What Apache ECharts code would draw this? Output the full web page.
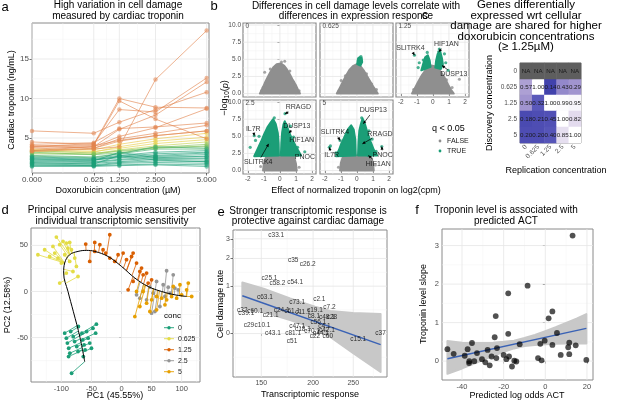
<!DOCTYPE html>
<html>
<head>
<meta charset="utf-8">
<script src="https://cdn.jsdelivr.net/npm/echarts@6/dist/echarts.min.js"></script>
<style>
html, body { margin: 0; padding: 0; background: #fff; }
#main { width: 617px; height: 406px; }
</style>
</head>
<body>
<div id="main"></div>
<script>
// ---- panel a : troponin per individual ----
var concLabels = ['0.000', '0.625', '1.250', '2.500', '5.000'];
var concValues = [0, 0.625, 1.25, 2.5, 5];
var troponinLevels = [
	[3.3, 3.6, 3.9, 12.4, 18.6],
	[4.5, 4.2, 10.0, 8.9, 8.8],
	[4.0, 4.1, 9.7, 7.4, 4.9],
	[3.9, 4.3, 8.6, 8.3, 12.6],
	[5.9, 5.6, 7.0, 8.6, 10.8],
	[3.6, 3.9, 6.1, 7.9, 12.1],
	[4.2, 4.4, 6.2, 6.4, 6.9],
	[3.4, 3.9, 5.2, 6.3, 8.7],
	[4.0, 3.7, 4.9, 5.6, 6.6],
	[3.8, 4.0, 4.7, 5.3, 5.9],
	[3.4, 3.7, 4.6, 5.3, 5.9],
	[3.6, 3.5, 4.2, 4.9, 5.6],
	[3.3, 3.2, 3.9, 4.6, 5.1],
	[3.5, 3.3, 3.7, 4.3, 4.8],
	[3.1, 3.0, 3.5, 4.0, 4.5],
	[3.0, 2.9, 3.4, 3.8, 4.2],
	[3.4, 3.1, 3.3, 3.7, 4.0],
	[3.2, 2.9, 3.1, 3.8, 3.9],
	[2.8, 2.6, 3.0, 3.6, 3.6],
	[2.7, 2.5, 3.0, 3.9, 3.7],
	[2.6, 2.4, 2.8, 3.2, 3.4],
	[2.5, 2.3, 2.6, 2.8, 3.1],
	[2.4, 2.2, 2.7, 3.0, 3.2],
	[2.3, 2.2, 2.5, 2.7, 2.9],
	[2.2, 2.1, 3.2, 2.5, 2.7],
	[2.1, 2.0, 2.3, 2.6, 2.6],
	[2.0, 1.9, 2.2, 2.4, 2.4],
	[1.9, 1.7, 2.8, 2.2, 2.0],
	[1.8, 1.8, 2.0, 2.3, 2.2],
	[1.7, 1.6, 1.9, 2.1, 2.0],
	[1.6, 1.5, 1.8, 1.9, 1.8],
	[1.5, 1.5, 1.6, 1.7, 1.6],
	[1.4, 1.4, 1.5, 1.6, 1.4]
];

// ---- panel b : volcano facets ----
var facetNames = ['0', '0.625', '1.25', '2.5', '5'];
var volcanoGray = [
	[[-1.25, 0], [-1.1, 0.7], [-0.95, 1.5], [-0.78, 2.3], [-0.6, 3.1], [-0.42, 3.8], [-0.2, 4.3], [0.05, 4.4], [0.25, 4.1], [0.42, 3.6], [0.6, 2.9], [0.78, 2.1], [0.98, 1.3], [1.12, 0.6], [1.25, 0]],
	[[-1.25, 0], [-1.05, 0.9], [-0.88, 1.7], [-0.68, 2.6], [-0.48, 3.4], [-0.25, 4.0], [0.0, 4.3], [0.22, 4.0], [0.42, 3.4], [0.62, 2.6], [0.85, 1.7], [1.05, 0.9], [1.3, 0]],
	[[-1.3, 0], [-1.1, 0.9], [-0.9, 1.8], [-0.68, 2.7], [-0.5, 3.3], [-0.3, 3.8], [-0.1, 4.1], [0.1, 4.0], [0.32, 3.7], [0.55, 3.0], [0.76, 2.2], [0.95, 1.3], [1.12, 0.6], [1.3, 0]],
	[[-1.05, 0], [-1.0, 1.0], [-0.85, 2.1], [-0.4, 2.3], [0, 2.2], [0.4, 2.3], [0.85, 2.2], [1.0, 1.0], [1.05, 0]],
	[[-1.05, 0], [-1.0, 1.1], [-0.85, 2.2], [-0.4, 2.3], [0, 2.2], [0.4, 2.3], [0.85, 2.2], [1.0, 1.1], [1.05, 0]]
];
var volcanoGreen = [
	[],
	[[[0.02, 4.3], [0.05, 4.9], [0.15, 5.3], [0.3, 5.2], [0.33, 4.6], [0.22, 4.1]]],
	[[[-0.72, 3.4], [-0.6, 4.4], [-0.48, 5.3], [-0.32, 5.6], [-0.2, 4.8], [-0.15, 3.9]],
	 [[0.15, 3.8], [0.2, 4.8], [0.3, 5.8], [0.45, 6.2], [0.56, 5.2], [0.62, 4.3], [0.5, 3.6]]],
	[[[-1.6, 2.1], [-1.38, 3.2], [-1.18, 4.2], [-0.98, 5.3], [-0.78, 6.3], [-0.58, 7.0], [-0.42, 7.5], [-0.26, 6.8], [-0.13, 5.5], [-0.08, 4.0], [-0.06, 2.2]],
	 [[0.06, 2.2], [0.09, 4.0], [0.14, 5.6], [0.22, 6.7], [0.3, 7.2], [0.42, 6.6], [0.56, 5.7], [0.76, 4.6], [0.98, 3.6], [1.22, 2.6], [1.32, 2.2]]],
	[[[-1.3, 2.1], [-1.12, 3.0], [-0.96, 4.0], [-0.76, 5.0], [-0.56, 6.0], [-0.36, 6.6], [-0.2, 6.0], [-0.1, 4.5], [-0.07, 2.2]],
	 [[0.07, 2.2], [0.1, 4.2], [0.15, 5.8], [0.25, 6.8], [0.35, 7.6], [0.5, 6.8], [0.66, 5.5], [0.86, 4.2], [1.06, 3.0], [1.26, 2.2]]]
];
var volcanoGrayDots = [
	[[-1.05, 0.9], [-0.95, 3.1], [0.3, 4.7], [0.85, 1.7], [0.95, 1.1], [-1.15, 0.4], [0.62, 3.3], [-0.6, 3.6], [0.1, 4.6], [1.2, 0.4]],
	[[-0.98, 1.9], [-0.88, 1.4], [-1.12, 0.4], [0.92, 1.4], [1.22, 0.6], [-0.72, 2.6], [0.6, 2.9]],
	[[1.65, 2.1], [1.2, 0.9], [-1.2, 0.6], [0.85, 2.0]],
	[[1.2, 0.5], [-1.2, 0.6]],
	[[1.15, 0.8], [-1.15, 0.5]]
];
var volcanoGreenDots = [
	[],
	[[0.25, 5.4], [0.1, 5.1]],
	[[-1.15, 5.6], [-0.85, 4.5], [-0.92, 3.8], [0.72, 5.8], [0.8, 4.5], [0.4, 6.5], [-0.35, 6.0], [0.95, 3.4], [0.36, 6.1], [0.57, 4.1], [-0.6, 4.9]],
	[[-1.6, 5.1], [-1.85, 3.4], [-1.52, 4.4], [0.32, 8.3], [0.55, 5.5], [0.32, 4.15], [1.55, 2.75], [1.1, 3.4], [0.85, 4.9], [-1.3, 5.0], [-0.7, 3.9], [0.65, 6.5], [-0.35, 7.7]],
	[[0.4, 6.83], [0.34, 3.9], [1.55, 3.5], [0.71, 2.2], [-1.05, 4.4], [-1.72, 3.4], [-1.65, 3.6], [-1.3, 2.6], [1.2, 2.8], [0.95, 4.6], [0.75, 5.8], [0.3, 7.7]]
];
// facet, gene, point x, point y, label x, label y
var geneLabels = [
	[2, 'SLITRK4', -1.15, 5.6, -1.4, 6.6],
	[2, 'HIF1AN', 0.36, 6.1, 0.84, 7.2],
	[2, 'DUSP13', 0.57, 4.1, 1.3, 2.8],
	[3, 'RRAGD', 0.32, 8.3, 1.15, 9.2],
	[3, 'IL7R', -1.6, 5.1, -1.66, 6.0],
	[3, 'DUSP13', 0.55, 5.5, 1.05, 6.5],
	[3, 'HIF1AN', 0.32, 4.15, 1.36, 4.5],
	[3, 'PNOC', 1.55, 2.75, 1.56, 1.96],
	[3, 'SLITRK4', -0.7, 3.9, -1.35, 1.23],
	[4, 'DUSP13', 0.4, 6.83, 1.02, 8.77],
	[4, 'RRAGD', 0.34, 3.9, 1.44, 5.37],
	[4, 'PNOC', 1.55, 3.5, 1.61, 2.3],
	[4, 'HIF1AN', 0.71, 2.2, 1.33, 1.0],
	[4, 'SLITRK4', -1.05, 4.4, -1.37, 5.6],
	[4, 'IL7R', -1.72, 3.4, -1.57, 2.2]
];

// ---- panel c : shared genes ----
var heatCols = ['0', '0.625', '1.25', '2.5', '5'];
var heatRows = ['0', '0.625', '1.25', '2.5', '5'];
var heatValues = [
	[null, null, null, null, null],
	[0.57, 1.00, 0.14, 0.43, 0.29],
	[0.50, 0.32, 1.00, 0.99, 0.95],
	[0.18, 0.21, 0.45, 1.00, 0.82],
	[0.20, 0.20, 0.40, 0.85, 1.00]
];
var heatShade = [
	[null, null, null, null, null],
	[0.55, 1.0, 0.05, 0.45, 0.5],
	[0.5, 0.25, 1.0, 0.98, 0.95],
	[0.12, 0.15, 0.18, 1.0, 0.8],
	[0.15, 0.15, 0.22, 0.82, 1.0]
];

// ---- panel d : principal curve ----
var concGroups = ['0', '0.625', '1.25', '2.5', '5'];
var curvePC1 = [-61.2, -69, -80, -89, -96.2, -94.5, -86.2, -72.3, -58.3, -44.5, -22.3, 0, 22.2, 44.3, 66.7, 88.8, 108.3];
var curvePC2 = [-76.1, -50, -22, 0, 20, 30.9, 39.9, 43.5, 44.6, 43.5, 38, 27.2, 14.6, 5.4, 0, -3.6, -5.4];
var pcaConc0 = [[-94.5, -45.2], [-91.7, -50.7], [-90, -56], [-87.8, -61.6], [-86, -67], [-84.5, -43.5], [-80.3, -49], [-78, -54.3], [-74.5, -59.8], [-72.3, -65.2], [-71.7, -38], [-65.8, -45.2], [-64.5, -52.5], [-62.2, -58], [-60.5, -63.4], [-58, -43.5], [-55.5, -50.7], [-52.8, -56], [-50, -61.6], [-47.5, -39.9], [-41.8, -35.5], [-43, -45.2], [-83, -88.7], [-88, -70.6], [-63.5, -70.6]];
var pcaConc0625 = [[-139, 39.9], [-108.3, 59.1], [-102.8, 50.8], [-97.3, 54.3], [-91.7, 52.5], [-86.2, 53.3], [-89, 47.1], [-83.3, 45.3], [-111, 41.7], [-105.7, 36.3], [-119.5, 38], [-94.5, 39.9], [-100, 30.8], [-77.8, 36.3], [-75, 27.2], [-72.3, 16.3], [-102.8, 9.1], [-91.7, 20], [-80.7, 21.7], [-127.8, 45.3], [-86.2, 32.6], [-114, 48.9]];
var pcaConc125 = [[-59.5, 51.5], [-44.5, 53.3], [-36, 50.8], [-52.8, 32.6], [-44.5, 43.5], [-30.7, 45.3], [-19.5, 61.6], [-26.2, 41.7], [-19.5, 36.3], [-5.7, 39.9], [2.7, 41.7], [8.3, 34.5], [16.7, 38], [19.3, 41.7], [25, 30.8], [30.5, 21.7], [36, 18.1], [41.7, 20], [19.3, 10.9], [11, 1.8], [44.3, 9.1], [50, 12.7], [33.3, 25.4], [-11.2, 32.6]];
var pcaConc25 = [[75, 22.5], [86, 18.1], [58.3, 10.9], [69.3, 7.3], [77.7, 4.7], [88.8, 3.6], [94.3, 1.8], [47.2, 4.7], [25, -3.6], [30.5, -7.2], [41.7, -9], [50, -23.5], [55.5, -21.7], [63.8, -16.3], [52.7, -1.8], [72.2, -5.4], [80.5, -1.8]];
var pcaConc5 = [[22.2, -27.2], [30.5, -16.3], [41.7, -12.7], [50, -9], [58.3, -5.4], [66.7, -7.2], [75, -9], [83.3, -5.4], [91.7, -7.2], [100, -3.6], [108.3, 1.8], [116.7, -5.4], [111, 9.1], [97.2, 7.3], [86, 5.4], [58.3, -19.9], [47.2, -21.7], [36, 0], [25, 0], [72.2, -14.5]];

// ---- panel e : transcriptomic response ----
var cellNames = ['c33.1', 'c35', 'c26.2', 'c25.1', 'c58.2', 'c54.1', 'c63.1', 'c73.1', 'c2.1', 'c7.2', 'c19.1', 'c32', 'c60.1', 'c39.1', 'c21.1', 'c24.1', 'c61.1', 'c11.1', 'c29', 'c10.1', 'c43.1', 'c51', 'c15.1', 'c37', 'c47.1', 'c81.1', 'c70.1', 'c18.1', 'c8.1', 'c48.1', 'c28', 'c56.1', 'c4.1', 'c42.1', 'c22', 'c60', 'c44.1'];
var cellResponse = [163, 179, 194, 157, 164, 181, 153, 183, 207, 219, 202, 135, 145, 138, 158, 168, 178, 189, 140, 151, 160, 178, 257, 291, 183, 179, 199, 189, 201, 216, 222, 206, 213, 216, 202, 217, 209];
var cellDamage = [3.23, 1.93, 1.75, 1.26, 1.08, 1.13, 0.69, 0.58, 0.66, 0.48, 0.41, 0.41, 0.39, 0.34, 0.30, 0.41, 0.39, 0.37, 0.13, 0.13, 0.01, -0.10, -0.085, 0, 0.11, 0.0, 0.03, 0.065, 0.29, 0.27, 0.27, 0.18, 0.11, 0.05, -0.04, -0.04, 0.0];
var eFitX = [135, 291];
var eFitY = [0.74, -0.15];
var eBandX = [135, 152, 176, 202, 220, 250, 291];
var eBandHi = [1.11, 0.93, 0.67, 0.48, 0.39, 0.35, 0.33];
var eBandLo = [0.46, 0.37, 0.22, 0.08, -0.05, -0.25, -0.43];

// ---- panel f : predicted ACT ----
var actOdds = [-47.0, -44.0, -38.7, -37.3, -36.5, -36.6, -35.2, -34.1, -32.8, -30.4, -28.8, -27.7, -26.7, -25.8, -24.3, -23.8, -23.2, -23.5, -20.0, -18.7, -17.8, -17.8, -17.4, -16.0, -14.9, -13.9, -12.3, -8.5, -3.5, -2.4, -1.8, -0.3, 1.6, 3.4, 3.4, 5.6, 7.4, 11.0, 11.5, 11.5, 13.1, 14.6, 19.7];
var tropSlope = [0.31, 0.19, 0.14, 0.31, 0.0, -0.05, 0.47, 0.0, 0.21, 0.05, -0.03, 0.29, -0.11, 0.12, 0.62, 1.17, 0.34, 0.08, 0.16, 0.05, 1.76, 0.71, 0.12, -0.14, 0.01, -0.01, 0.44, 1.96, 0.08, 0.45, 0.02, 0.53, 1.11, 1.29, 0.42, 0.73, 0.16, 0.36, 0.48, 0.18, 3.26, 0.41, 0.03];
var fFitX = [-47, 19.7];
var fFitY = [0.06, 0.85];
var fBandX = [-47, -40, -35, -30, -25, -20, -15, -10, -5, 0, 5, 10, 15, 19.7];
var fBandHi = [0.52, 0.48, 0.47, 0.47, 0.48, 0.5, 0.53, 0.6, 0.68, 0.78, 0.88, 0.99, 1.1, 1.22];
var fBandLo = [-0.33, -0.19, -0.08, 0.03, 0.14, 0.24, 0.33, 0.39, 0.42, 0.44, 0.45, 0.46, 0.46, 0.46];

var FONT = '"Liberation Sans", Arial, sans-serif';
var GREEN = '#1b9e77';
var GRAYPT = '#8f8f8f';
var HIDDEN = 'rgba(0,0,0,0)';
var groupColors = ['#1b9e77', '#e3dc45', '#d95f02', '#959595', '#e69f00'];

var chart = echarts.init(document.getElementById('main'), null, { renderer: 'canvas' });

function nearest(arr, v) {
	var bi = 0, bd = Infinity;
	for (var i = 0; i < arr.length; i++) {
		var d = Math.abs(arr[i] - v);
		if (d < bd) { bd = d; bi = i; }
	}
	return bi;
}

function valueAxis(gi, range, ticks, labels, opt) {
	opt = opt || {};
	return {
		type: 'value', gridIndex: gi, min: range[0], max: range[1],
		axisLine: { show: false },
		splitLine: { show: false },
		axisTick: { show: !opt.hide, length: 2.5, lineStyle: { color: '#333', width: 0.7 }, customValues: ticks },
		axisLabel: {
			show: !opt.hide, customValues: ticks, margin: opt.margin || 3,
			fontSize: opt.fontSize || 8, color: '#4d4d4d', fontFamily: FONT,
			formatter: function (v) { return labels[nearest(ticks, v)]; }
		}
	};
}

// background grid lines drawn through the axes
function gridLines(gi, xMajor, xMinor, yMajor, yMinor) {
	var data = [];
	xMinor.forEach(function (v) { data.push([0, v, 0]); });
	yMinor.forEach(function (v) { data.push([1, v, 0]); });
	xMajor.forEach(function (v) { data.push([0, v, 1]); });
	yMajor.forEach(function (v) { data.push([1, v, 1]); });
	return {
		type: 'custom', xAxisIndex: gi, yAxisIndex: gi, silent: true, z: 1,
		encode: { x: -1, y: -1 },
		data: data,
		renderItem: function (params, api) {
			var cs = params.coordSys;
			var dim = api.value(0), v = api.value(1), major = api.value(2) === 1;
			var p = api.coord([v, v]);
			var shape;
			if (dim === 0) {
				if (p[0] < cs.x || p[0] > cs.x + cs.width) return null;
				shape = { x1: p[0], y1: cs.y, x2: p[0], y2: cs.y + cs.height };
			} else {
				if (p[1] < cs.y || p[1] > cs.y + cs.height) return null;
				shape = { x1: cs.x, y1: p[1], x2: cs.x + cs.width, y2: p[1] };
			}
			return { type: 'line', shape: shape, style: { stroke: major ? '#e6e6e6' : '#f2f2f2', lineWidth: major ? 0.8 : 0.5 } };
		}
	};
}

function polySeries(gi, poly, color, z) {
	return {
		type: 'custom', xAxisIndex: gi, yAxisIndex: gi, silent: true, z: z || 3,
		data: [poly[0]],
		renderItem: function (params, api) {
			var pts = poly.map(function (p) { return api.coord(p); });
			return { type: 'polygon', shape: { points: pts }, style: { fill: color, stroke: color, lineWidth: 2, lineJoin: 'round' } };
		}
	};
}

function dotSeries(gi, pts, color, size, z) {
	return {
		type: 'scatter', xAxisIndex: gi, yAxisIndex: gi, silent: true, z: z || 4,
		symbolSize: size, itemStyle: { color: color }, data: pts
	};
}

var series = [];
var grids = [];
var xAxes = [];
var yAxes = [];
var BORDER = '#8a8a8a';

function addGrid(left, top, width, height) {
	grids.push({ left: left, top: top, width: width, height: height, show: true, borderColor: BORDER, borderWidth: 1, backgroundColor: '#fff', containLabel: false });
	return grids.length - 1;
}

// ---------- panel a ----------
var gA = addGrid(32, 23, 177, 150);
var sqrtConc = concValues.map(Math.sqrt);
var sqrtMinor = [];
for (var i = 0; i < sqrtConc.length - 1; i++) sqrtMinor.push((sqrtConc[i] + sqrtConc[i + 1]) / 2);
xAxes.push(valueAxis(gA, [0, 2.266], sqrtConc, concLabels, { fontSize: 8 }));
yAxes.push(valueAxis(gA, [0.57, 19.56], [5, 10, 15], ['5', '10', '15'], { fontSize: 8 }));
series.push(gridLines(gA, sqrtConc, sqrtMinor, [5, 10, 15], [2.5, 7.5, 12.5, 17.5]));

var colorStops = [[2.9, [27, 158, 119]], [3.4, [110, 190, 95]], [3.7, [226, 214, 70]], [4.4, [236, 196, 70]], [4.6, [226, 132, 78]]];
function troponinColor(m) {
	if (m <= colorStops[0][0]) return colorStops[0][1];
	for (var i = 1; i < colorStops.length; i++) {
		if (m <= colorStops[i][0]) {
			var a = colorStops[i - 1], b = colorStops[i];
			var t = (m - a[0]) / (b[0] - a[0]);
			return [0, 1, 2].map(function (k) { return Math.round(a[1][k] + (b[1][k] - a[1][k]) * t); });
		}
	}
	return colorStops[colorStops.length - 1][1];
}
troponinLevels.forEach(function (row) {
	var m = row.reduce(function (s, v) { return s + v; }, 0) / row.length;
	var c = troponinColor(m);
	series.push({
		type: 'line', xAxisIndex: gA, yAxisIndex: gA, z: m > 4.5 ? 4 : 3, silent: true,
		data: row.map(function (v, j) { return [sqrtConc[j], v]; }),
		symbol: 'circle', symbolSize: 4.5,
		lineStyle: { color: 'rgba(' + c.join(',') + ',0.7)', width: 0.9 },
		itemStyle: { color: 'rgba(' + c.join(',') + ',0.55)' }
	});
});

// ---------- panel b ----------
var facetBoxes = [[243, 23], [320, 23], [396, 23], [243, 100], [320, 100]];
var bX = [-2.3, 2.25], bY = [-0.5, 10.3];
var bXt = [-2, -1, 0, 1, 2], bYt = [0, 2.5, 5, 7.5, 10];
var bYl = ['0.0', '2.5', '5.0', '7.5', '10.0'];
facetBoxes.forEach(function (box, f) {
	var g = addGrid(box[0], box[1], 73, 74);
	grids[g].borderColor = '#8c8c8c';
	grids[g].borderWidth = 1.2;
	var showX = (f >= 2), showY = (f === 0 || f === 3);
	xAxes.push(valueAxis(g, bX, bXt, ['-2', '-1', '0', '1', '2'], { hide: !showX, fontSize: 6.5, margin: 2 }));
	yAxes.push(valueAxis(g, bY, bYt, bYl, { hide: !showY, fontSize: 6.5, margin: 2 }));
	series.push(gridLines(g, bXt, [-1.5, -0.5, 0.5, 1.5], bYt, [1.25, 3.75, 6.25, 8.75]));
	series.push(polySeries(g, volcanoGray[f], GRAYPT, 3));
	series.push(dotSeries(g, volcanoGrayDots[f], GRAYPT, 3, 3));
	volcanoGreen[f].forEach(function (poly) { series.push(polySeries(g, poly, GREEN, 4)); });
	series.push(dotSeries(g, volcanoGreenDots[f], GREEN, 3.2, 4));
	// facet strip label inside the panel
	series.push({
		type: 'scatter', xAxisIndex: g, yAxisIndex: g, silent: true, z: 8,
		symbolSize: 1, itemStyle: { color: HIDDEN },
		data: [{ name: facetNames[f], value: [bX[0], bY[1]] }],
		label: { show: true, position: [3, 4], align: 'left', verticalAlign: 'middle', formatter: '{b}', fontSize: 6.5, color: '#1a1a1a', fontFamily: FONT }
	});
	var genes = geneLabels.filter(function (r) { return r[0] === f; });
	if (genes.length) {
		series.push({
			type: 'custom', xAxisIndex: g, yAxisIndex: g, silent: true, z: 6,
			data: genes.map(function (r) { return [r[2], r[3], r[4], r[5], r[1].length]; }),
			renderItem: function (params, api) {
				var p = api.coord([api.value(0), api.value(1)]);
				var l = api.coord([api.value(2), api.value(3)]);
				var hw = api.value(4) * 2.4 + 1, hh = 4.5;
				var dx = p[0] - l[0], dy = p[1] - l[1];
				var t = Math.min(dx ? hw / Math.abs(dx) : Infinity, dy ? hh / Math.abs(dy) : Infinity);
				if (t >= 0.8) return null;
				var s = [l[0] + dx * t, l[1] + dy * t];
				var len = Math.sqrt((p[0] - s[0]) * (p[0] - s[0]) + (p[1] - s[1]) * (p[1] - s[1]));
				var ux = (p[0] - s[0]) / len, uy = (p[1] - s[1]) / len;
				var head = [p, [p[0] - ux * 3 - uy * 1.5, p[1] - uy * 3 + ux * 1.5], [p[0] - ux * 3 + uy * 1.5, p[1] - uy * 3 - ux * 1.5]];
				return {
					type: 'group', children: [
						{ type: 'line', shape: { x1: s[0], y1: s[1], x2: p[0], y2: p[1] }, style: { stroke: '#000', lineWidth: 0.7 } },
						{ type: 'polygon', shape: { points: head }, style: { fill: '#000' } }
					]
				};
			}
		});
		series.push({
			type: 'scatter', xAxisIndex: g, yAxisIndex: g, silent: true, z: 7,
			symbolSize: 1, itemStyle: { color: HIDDEN },
			data: genes.map(function (r) { return { value: [r[4], r[5]], name: r[1] }; }),
			label: { show: true, position: 'inside', formatter: '{b}', fontSize: 7, color: '#000', fontFamily: FONT }
		});
	}
});

// ---------- panel c ----------
var gC = addGrid(520, 63, 61, 80);
xAxes.push({
	type: 'category', gridIndex: gC, data: heatCols,
	axisLine: { show: false }, splitLine: { show: false },
	axisTick: { alignWithLabel: true, length: 2.5, lineStyle: { color: '#333', width: 0.7 } },
	axisLabel: { interval: 0, rotate: 45, fontSize: 6.5, color: '#4d4d4d', margin: 3, fontFamily: FONT }
});
yAxes.push({
	type: 'category', gridIndex: gC, data: heatRows, inverse: true,
	axisLine: { show: false }, splitLine: { show: false },
	axisTick: { alignWithLabel: true, length: 2.5, lineStyle: { color: '#333', width: 0.7 } },
	axisLabel: { interval: 0, fontSize: 6.5, color: '#4d4d4d', margin: 3, fontFamily: FONT }
});
var heatData = [], naData = [];
heatValues.forEach(function (row, r) {
	row.forEach(function (v, c) {
		if (v === null) naData.push([c, r, 0]);
		else heatData.push([c, r, v, heatShade[r][c]]);
	});
});
var heatIndex = series.length;
series.push({
	type: 'heatmap', xAxisIndex: gC, yAxisIndex: gC, data: heatData, silent: true,
	label: { show: true, fontSize: 6.2, color: '#1a1a1a', fontFamily: FONT, formatter: function (p) { return p.value[2].toFixed(2); } }
});
series.push({
	type: 'heatmap', xAxisIndex: gC, yAxisIndex: gC, data: naData, silent: true,
	itemStyle: { color: '#5e5e5e' },
	label: { show: true, fontSize: 6.2, color: '#1a1a1a', fontFamily: FONT, formatter: 'NA' }
});

// ---------- panel d ----------
var gD = addGrid(31, 228, 169, 154);
xAxes.push(valueAxis(gD, [-150.5, 130.5], [-100, -50, 0, 50, 100], ['-100', '-50', '0', '50', '100'], { fontSize: 7.5 }));
yAxes.push(valueAxis(gD, [-98.2, 68.9], [-50, 0, 50], ['-50', '0', '50'], { fontSize: 7.5 }));
series.push(gridLines(gD, [-100, -50, 0, 50, 100], [-125, -75, -25, 25, 75, 125], [-50, 0, 50], [-75, -25, 25]));

function projectOnCurve(pt) {
	var best = null, bd = Infinity;
	for (var i = 0; i < curvePC1.length - 1; i++) {
		var ax = curvePC1[i], ay = curvePC2[i], bx = curvePC1[i + 1], by = curvePC2[i + 1];
		var vx = bx - ax, vy = by - ay;
		var t = ((pt[0] - ax) * vx + (pt[1] - ay) * vy) / (vx * vx + vy * vy);
		t = Math.max(0, Math.min(1, t));
		var qx = ax + vx * t, qy = ay + vy * t;
		var d = (pt[0] - qx) * (pt[0] - qx) + (pt[1] - qy) * (pt[1] - qy);
		if (d < bd) { bd = d; best = [qx, qy]; }
	}
	return best;
}
[pcaConc0, pcaConc0625, pcaConc125, pcaConc25, pcaConc5].forEach(function (pts, k) {
	var color = groupColors[k];
	series.push({
		type: 'custom', xAxisIndex: gD, yAxisIndex: gD, silent: true, z: 4,
		data: pts.map(function (pt) { var q = projectOnCurve(pt); return [pt[0], pt[1], q[0], q[1]]; }),
		renderItem: function (params, api) {
			var p = api.coord([api.value(0), api.value(1)]);
			var q = api.coord([api.value(2), api.value(3)]);
			return {
				type: 'group', children: [
					{ type: 'line', shape: { x1: p[0], y1: p[1], x2: q[0], y2: q[1] }, style: { stroke: color, lineWidth: 0.8 } },
					{ type: 'circle', shape: { cx: p[0], cy: p[1], r: 1.9 }, style: { fill: color } }
				]
			};
		}
	});
});
series.push({
	type: 'line', xAxisIndex: gD, yAxisIndex: gD, z: 5, silent: true, smooth: 0.4,
	symbol: 'none', lineStyle: { color: '#000', width: 1 },
	data: curvePC1.map(function (x, i) { return [x, curvePC2[i]]; })
});

// ---------- panel e ----------
var gE = addGrid(233, 230, 154, 147);
var eXt = [150, 200, 250].map(Math.log);
var eYt = [0, 1, 2, 3].map(Math.log1p);
xAxes.push(valueAxis(gE, [4.8534, 5.7089], eXt, ['150', '200', '250'], { fontSize: 7 }));
yAxes.push(valueAxis(gE, [-0.636, 1.515], eYt, ['0', '1', '2', '3'], { fontSize: 7 }));
series.push(gridLines(gE, eXt, [130, 173.2, 223.6, 279.5].map(Math.log), eYt, [-0.3466, 0.3466, 0.8959, 1.2425]));
var eBand = eBandX.map(function (x, i) { return [Math.log(x), Math.log1p(eBandHi[i])]; })
	.concat(eBandX.map(function (x, i) { return [Math.log(x), Math.log1p(eBandLo[i])]; }).reverse());
series.push(polySeries(gE, eBand, '#c8c8c8', 2));
series.push({
	type: 'line', xAxisIndex: gE, yAxisIndex: gE, z: 3, silent: true, symbol: 'none',
	lineStyle: { color: '#3a62b5', width: 1.5 },
	data: eFitX.map(function (x, i) { return [Math.log(x), Math.log1p(eFitY[i])]; })
});
series.push({
	type: 'scatter', xAxisIndex: gE, yAxisIndex: gE, z: 5, silent: true,
	symbolSize: 1, itemStyle: { color: HIDDEN },
	data: cellNames.map(function (n, i) { return { name: n, value: [Math.log(cellResponse[i]), Math.log1p(cellDamage[i])] }; }),
	label: { show: true, position: 'inside', formatter: '{b}', fontSize: 6.5, color: '#000', fontFamily: FONT }
});

// ---------- panel f ----------
var gF = addGrid(442, 229, 151, 151);
xAxes.push(valueAxis(gF, [-49.6, 22.9], [-40, -20, 0, 20], ['-40', '-20', '0', '20'], { fontSize: 7.5 }));
yAxes.push(valueAxis(gF, [-0.49, 3.43], [0, 1, 2, 3], ['0', '1', '2', '3'], { fontSize: 7.5 }));
series.push(gridLines(gF, [-40, -20, 0, 20], [-30, -10, 10], [0, 1, 2, 3], [0.5, 1.5, 2.5]));
var fBand = fBandX.map(function (x, i) { return [x, fBandHi[i]]; })
	.concat(fBandX.map(function (x, i) { return [x, fBandLo[i]]; }).reverse());
series.push(polySeries(gF, fBand, '#c8c8c8', 2));
series.push({
	type: 'scatter', xAxisIndex: gF, yAxisIndex: gF, z: 4, silent: true,
	symbolSize: 5.8, itemStyle: { color: 'rgba(0,0,0,0.85)' },
	data: actOdds.map(function (x, i) { return [x, tropSlope[i]]; })
});
series.push({
	type: 'line', xAxisIndex: gF, yAxisIndex: gF, z: 3, silent: true, symbol: 'none',
	lineStyle: { color: '#3a62b5', width: 1.5 },
	data: fFitX.map(function (x, i) { return [x, fFitY[i]]; })
});

// ---------- text ----------
function txt(x, y, text, size, opt) {
	opt = opt || {};
	return {
		type: 'text', x: x, y: y, rotation: opt.rot || 0, silent: true, z: 100,
		style: {
			text: text, fontSize: size, fontFamily: FONT, fill: opt.color || '#000',
			align: opt.align || 'center', verticalAlign: 'middle', lineHeight: opt.lh || size * 1.1
		}
	};
}
var graphics = [
	txt(5, 7, 'a', 13), txt(214, 6, 'b', 13), txt(425, 15, 'c', 13),
	txt(5, 210, 'd', 13), txt(221, 212, 'e', 13), txt(417, 210, 'f', 13),
	txt(118, 11, 'High variation in cell damage\nmeasured by cardiac troponin', 10, { lh: 10.8 }),
	txt(356, 11, 'Differences in cell damage levels correlate with\ndifferences in expression response', 10, { lh: 10.5 }),
	txt(526, 26, 'Genes differentially\nexpressed wrt cellular\ndamage are shared for higher\ndoxorubicin concentrations\n(\u2265 1.25\u00b5M)', 11.5, { lh: 10.6 }),
	txt(112, 215.5, 'Principal curve analysis measures per\nindividual transcriptomic sensitivity', 10, { lh: 10.5 }),
	txt(308, 216.5, 'Stronger transcriptomic response is\nprotective against cardiac damage', 10, { lh: 10 }),
	txt(506, 215.5, 'Troponin level is associated with\npredicted ACT', 10, { lh: 10.5 }),
	// axis titles
	txt(118, 191, 'Doxorubicin concentration (\u00b5M)', 9),
	txt(12, 100, 'Cardiac troponin (ng/mL)', 9, { rot: Math.PI / 2 }),
	txt(356, 191, 'Effect of normalized troponin on log2(cpm)', 9),
	txt(556, 171, 'Replication concentration', 9),
	txt(490, 103, 'Discovery concentration', 9, { rot: Math.PI / 2 }),
	txt(115, 396, 'PC1 (45.55%)', 9),
	txt(8, 305, 'PC2 (12.58%)', 9, { rot: Math.PI / 2 }),
	txt(310, 395, 'Transcriptomic response', 9),
	txt(221, 304, 'Cell damage rate', 9, { rot: Math.PI / 2 }),
	txt(517, 396, 'Predicted log odds ACT', 9),
	txt(424, 304, 'Troponin level slope', 9, { rot: Math.PI / 2 })
];
// -log10(p) with subscript
graphics.push({
	type: 'text', x: 225, y: 98, rotation: Math.PI / 2, silent: true, z: 100,
	style: {
		text: '{a|\u2212log}{s|10}{a|(}{i|p}{a|)}', fontFamily: FONT, fill: '#000', align: 'center', verticalAlign: 'middle',
		rich: {
			a: { fontSize: 9, fontFamily: FONT },
			i: { fontSize: 9, fontStyle: 'italic', fontFamily: FONT },
			s: { fontSize: 6.5, fontFamily: FONT, verticalAlign: 'bottom', padding: [4, 0, 0, 0] }
		}
	}
});
// legend for q < 0.05
graphics.push(txt(432, 129, 'q < 0.05', 9, { align: 'left' }));
graphics.push({ type: 'circle', shape: { cx: 440, cy: 141, r: 1.4 }, style: { fill: GRAYPT }, z: 100 });
graphics.push(txt(447, 141, 'FALSE', 7, { align: 'left', color: '#1a1a1a' }));
graphics.push({ type: 'circle', shape: { cx: 440, cy: 151, r: 1.4 }, style: { fill: GREEN }, z: 100 });
graphics.push(txt(447, 151, 'TRUE', 7, { align: 'left', color: '#1a1a1a' }));
// legend for conc
graphics.push(txt(164, 316, 'conc', 8, { align: 'left' }));
concGroups.forEach(function (name, k) {
	var y = 327.7 + k * 11;
	graphics.push({ type: 'line', shape: { x1: 164, y1: y, x2: 174, y2: y }, style: { stroke: groupColors[k], lineWidth: 0.9 }, z: 100 });
	graphics.push({ type: 'circle', shape: { cx: 169, cy: y, r: 1.7 }, style: { fill: groupColors[k] }, z: 100 });
	graphics.push(txt(178, y, name, 7, { align: 'left', color: '#1a1a1a' }));
});

chart.setOption({
	animation: false,
	backgroundColor: '#fff',
	textStyle: { fontFamily: FONT },
	grid: grids,
	xAxis: xAxes,
	yAxis: yAxes,
	visualMap: [{
		type: 'continuous', show: false, seriesIndex: heatIndex, dimension: 3, min: 0, max: 1,
		inRange: { color: ['#3b3da8', '#5a58ba', '#a194cf', '#dcd2ea', '#ffffff'] }
	}],
	series: series,
	graphic: { elements: graphics }
});
</script>
</body>
</html>
